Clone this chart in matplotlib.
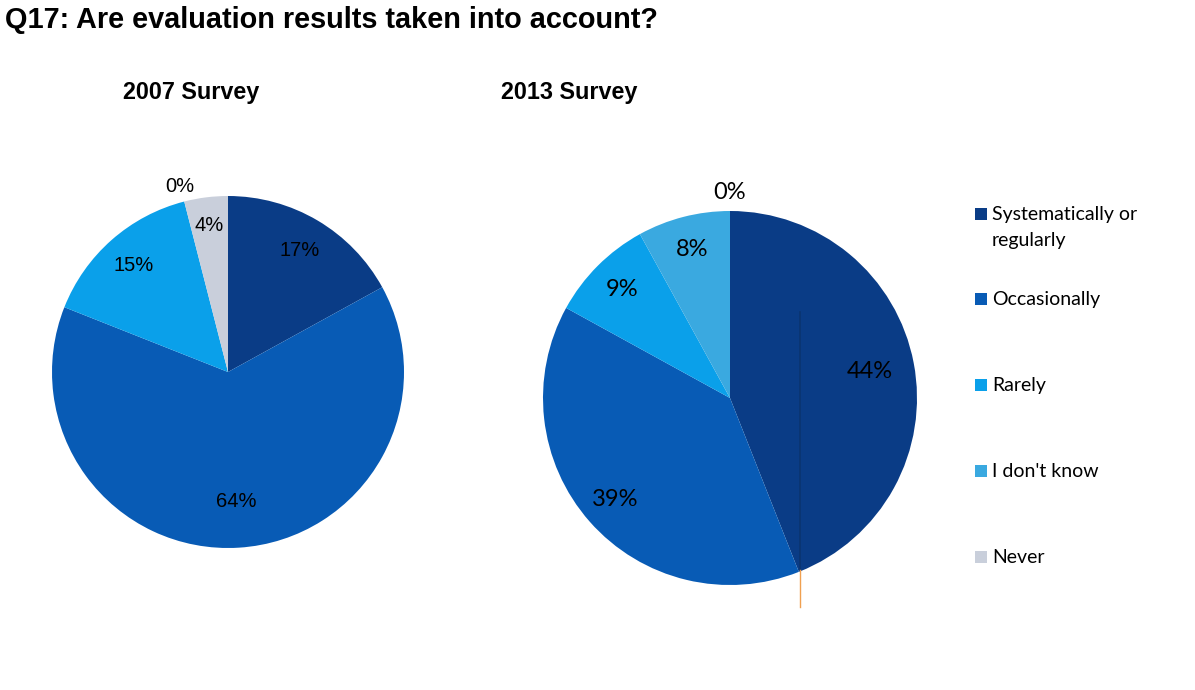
import matplotlib
matplotlib.use('Agg')
import matplotlib.pyplot as plt
import numpy as np
from matplotlib.patches import Rectangle

categories = ['Systematically or\nregularly', 'Occasionally', 'Rarely', "I don't know", 'Never']
share_2007 = [17, 64, 15, 0, 4]
share_2013 = [44, 39, 9, 8, 0]
colors = ['#0a3c86', '#085bb5', '#0aa0ea', '#3aa9e0', '#c9cfdb']

W, H = 1195, 690
fig = plt.figure(figsize=(W / 100, H / 100), dpi=100)
fig.patch.set_facecolor('white')

fig.text(5 / W, 1 - 20 / H, 'Q17: Are evaluation results taken into account?',
         fontsize=20.8, fontweight='bold', family='Liberation Sans', va='center', ha='left')
fig.text(123 / W, 1 - 92 / H, '2007 Survey', fontsize=16.8, fontweight='bold',
         family='Liberation Sans', va='center', ha='left')
fig.text(501 / W, 1 - 92 / H, '2013 Survey', fontsize=16.8, fontweight='bold',
         family='Liberation Sans', va='center', ha='left')


def draw_pie(cx, cy, r, values, dists, zero_dist, font, fsize):
    ax = fig.add_axes([(cx - r) / W, (H - cy - r) / H, 2 * r / W, 2 * r / H])
    wedges, _ = ax.pie(values, colors=colors, startangle=90, counterclock=False,
                       wedgeprops=dict(linewidth=0))
    ax.set_xlim(-1, 1)
    ax.set_ylim(-1, 1)
    ax.set_aspect('equal')
    ax.axis('off')
    for w, v, d in zip(wedges, values, dists):
        ang = np.deg2rad((w.theta1 + w.theta2) / 2)
        dist = zero_dist if v == 0 else d
        ax.text(dist * np.cos(ang), dist * np.sin(ang), '%d%%' % v,
                ha='center', va='center', fontsize=fsize, family=font, clip_on=False)
    return ax


draw_pie(228, 372, 176, share_2007, [0.80, 0.74, 0.81, 0.8, 0.84], 1.09, 'Liberation Sans', 14.5)
ax2 = draw_pie(730, 398, 187, share_2013, [0.76, 0.82, 0.82, 0.82, 0.82], 1.1, 'Lato', 17)
# stray guide line on the 2013 chart: dark inside the pie, orange below it
ax2.plot([0.374, 0.374], [0.46, -0.92], color='#0a3470', lw=1.2)
ax2.plot([0.374, 0.374], [-0.92, -1.12], color='#f0a050', lw=1, clip_on=False)

# legend drawn by hand so the marker sits on the first text line
legend_y = [214, 299, 385, 471, 557]
for lab, col, y in zip(categories, colors, legend_y):
    fig.patches.append(Rectangle((975 / W, 1 - (y + 6) / H), 12 / W, 12 / H,
                                 transform=fig.transFigure, facecolor=col, edgecolor='none'))
    fig.text(992 / W, 1 - (y - 8) / H, lab, fontsize=14, family='Lato',
             va='top', ha='left', linespacing=1.65)

fig.savefig('out.png', dpi=100)
